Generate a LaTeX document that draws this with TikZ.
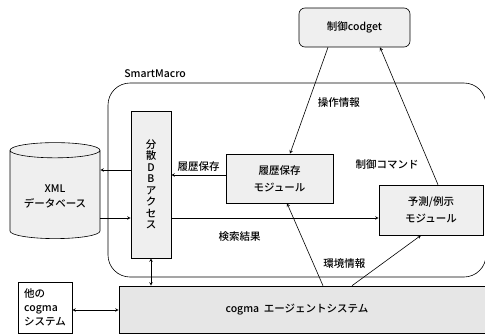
\documentclass[tikz,border=0pt]{standalone}
\usepackage{fontspec}
\setmainfont{Noto Sans CJK JP}[BoldFont={Noto Sans CJK JP Medium}]
\usetikzlibrary{shapes.geometric, arrows, positioning}
\definecolor{boxgray}{HTML}{EFEFEF}
\definecolor{agentgray}{HTML}{E6E6E6}
\tikzstyle{process} = [rectangle, draw=black, fill=boxgray, text centered, align=center]
\tikzstyle{module} = [process, font=\bfseries\fontsize{10.5}{17}\selectfont]
\tikzstyle{cyl} = [cylinder, shape border rotate=90, aspect=0.22, draw=black, fill=boxgray, minimum width=90pt, minimum height=96pt, align=center, font=\bfseries\fontsize{10.5}{15}\selectfont]
\tikzstyle{arrow} = [->,>=stealth]
\tikzstyle{darrow} = [<->,>=stealth]

\begin{document}
\begin{tikzpicture}[x=1pt, y=-1pt, line width=0.6pt, font=\bfseries\fontsize{10.5}{11.5}\selectfont]
    \useasboundingbox (0,0) rectangle (485,335);
    \node (smart) [rectangle, draw=black, rounded corners=22pt, minimum width=378pt, minimum height=194pt] at (297,180) {};
    \node (smartlbl) [anchor=south west] at ([xshift=13pt, yshift=1pt]smart.north west) {SmartMacro};
    \node (ctrl) [process, rounded corners=6pt, minimum width=111pt, minimum height=39pt] at (354.5,27.5) {制御codget};
    \node (dist) [process, minimum width=40pt, minimum height=147pt] at (151,184.5) {分\\散\\D\\B\\ア\\ク\\セ\\ス};
    \node (hist) [module, minimum width=107pt, minimum height=49pt] at (279.5,178.5) {履歴保存\\モジュール};
    \node (pred) [module, minimum width=104pt, minimum height=50pt] at (431,210) {予測/例示\\モジュール};
    \node (xmldb) [cyl] at (55,196) {XML\\データベース};
    \node (agent) [process, fill=agentgray, minimum width=370pt, minimum height=47pt] at (304,309.5) {cogma\ \ エージェントシステム\hspace{14pt}};
    \node (other) [process, fill=white, align=left, minimum width=54pt, minimum height=51pt, font=\bfseries\fontsize{10.5}{14}\selectfont] at (45,307.5) {他の\\cogma\\システム};
    \draw[arrow] ([xshift=-26.5pt]ctrl.south) -- ([xshift=10.5pt]hist.north) node[pos=0.52, right=6pt] {操作情報};
    \draw[arrow] ([xshift=7pt]pred.north) -- ([xshift=25.5pt]ctrl.south) node[pos=0.15, left=7pt] {制御コマンド};
    \draw[arrow] ([yshift=3.5pt]hist.west) -- ([yshift=3.5pt]hist.west -| dist.east) node[midway, above] {履歴保存};
    \draw[arrow] ([yshift=14.5pt]dist.west) -- ([yshift=14.5pt]dist.west -| xmldb.east);
    \draw[arrow] ([yshift=-33.5pt]dist.west -| xmldb.east) -- ([yshift=-33.5pt]dist.west);
    \draw[arrow] ([yshift=-33.5pt]dist.east) -- ([yshift=-33.5pt]dist.east -| pred.west) node[pos=0.33, below=10pt] {検索結果};
    \draw[darrow] (dist.south) -- (dist.south |- agent.north);
    \draw[arrow] ([xshift=19pt]agent.north) -- ([xshift=7.5pt]hist.south);
    \draw[arrow] ([xshift=48pt]agent.north) -- ([xshift=-10pt]pred.south) node[pos=0.45, left=14pt] {環境情報};
    \draw[darrow] ([yshift=-2.5pt]other.east) -- ([yshift=-2.5pt]other.east -| agent.west);
\end{tikzpicture}
\end{document}
